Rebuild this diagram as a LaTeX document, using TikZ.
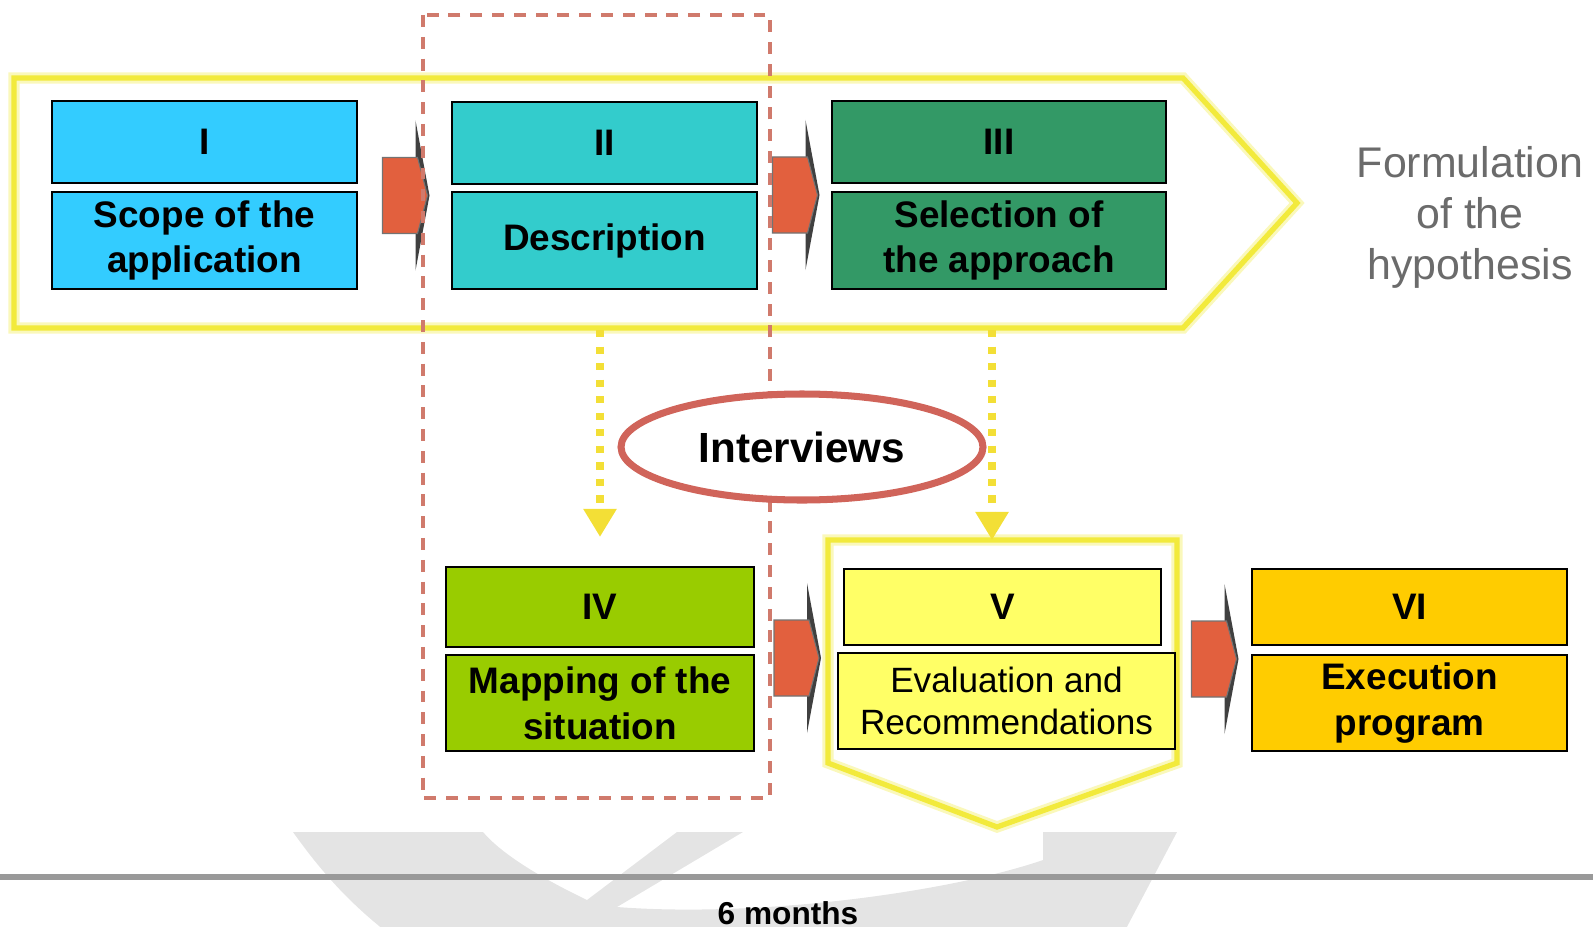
\documentclass[tikz,border=0pt]{standalone}
\usepackage{fontspec}
\setmainfont{Liberation Sans}
\usetikzlibrary{arrows.meta,shapes.geometric,calc}

\definecolor{scopeblue}{HTML}{33CCFF}
\definecolor{desccyan}{HTML}{33CCCC}
\definecolor{selgreen}{HTML}{339966}
\definecolor{mapgreen}{HTML}{99CC00}
\definecolor{evalyellow}{HTML}{FFFF66}
\definecolor{execgold}{HTML}{FFCC00}
\definecolor{flowred}{HTML}{E2603E}
\definecolor{hilite}{HTML}{F2EA3C}
\definecolor{dashred}{HTML}{D07A6C}
\definecolor{ringred}{HTML}{D0645A}
\definecolor{swoosh}{HTML}{E4E4E4}

\tikzset{
  stepbox/.style={draw=black, line width=0.6pt, inner sep=0pt, align=center,
    font=\fontsize{10.5}{13}\selectfont\bfseries},
  glow line/.style={draw=hilite!35, line width=3.2pt, line join=miter},
  hilite line/.style={draw=hilite, line width=1.5pt, line join=miter},
  dasharrow/.style={hilite!90!orange, line width=2.3pt, dash pattern=on 2.1pt off 2.6pt,
    -{Triangle[length=8pt,width=9pt]}},
  flowarrow/.pic={
    \fill[black!75] (11,-75) -- (25,0) -- (11,75) -- cycle;
    \filldraw[fill=flowred, draw=black!55, line width=0.3pt]
      (-22,-38) -- (13,-38) -- (23,0) -- (13,38) -- (-22,38) -- cycle;
  }
}

\begin{document}
\begin{tikzpicture}[x=0.1mm, y=-0.1mm]
    \useasboundingbox (0,0) rectangle (1593,926);

    % Background swoosh at the bottom
    \begin{scope}
        \clip (0,832) rectangle (1593,926);
        \fill[swoosh] (293,832) .. controls (320,870) and (350,905) .. (397,940)
            -- (1120,940) -- (1177,832) -- (1043,832) -- (1043,860)
            .. controls (950,892) and (760,918) .. (617,907)
            -- (743,832) -- (677,832) -- (587,900)
            .. controls (535,875) and (500,852) .. (483,832) -- cycle;
    \end{scope}
    \draw[black!40, line width=1.7pt] (0,877) -- (1593,877);

    % Large outline arrow around phases I-III
    \draw[glow line] (14,78) -- (1183,78) -- (1297,203) -- (1183,328) -- (14,328) -- cycle;
    \draw[hilite line] (14,78) -- (1183,78) -- (1297,203) -- (1183,328) -- (14,328) -- cycle;
    \coordinate (hyp-base) at (0,330);

    % Outline pentagon around phase V
    \draw[glow line, fill=white] (828,540) -- (1177,540) -- (1177,763) -- (997,827) -- (828,763) -- cycle;
    \draw[hilite line] (828,540) -- (1177,540) -- (1177,763) -- (997,827) -- (828,763) -- cycle;
    \coordinate (v-top) at (992,540);

    % Phases I-III
    \node[stepbox, fill=scopeblue, minimum width=30.5mm, minimum height=8.2mm] (n1) at (204.5,142) {I};
    \node[stepbox, fill=scopeblue, minimum width=30.5mm, minimum height=9.7mm] (s1) at (204.5,240.5) {Scope of the\\application};
    \node[stepbox, fill=desccyan, minimum width=30.5mm, minimum height=8.2mm] (n2) at (604.5,143) {II};
    \node[stepbox, fill=desccyan, minimum width=30.5mm, minimum height=9.7mm] (s2) at (604.5,240.5) {Description};
    \node[stepbox, fill=selgreen, minimum width=33.4mm, minimum height=8.2mm] (n3) at (999,142) {III};
    \node[stepbox, fill=selgreen, minimum width=33.4mm, minimum height=9.7mm] (s3) at (999,240.5) {Selection of\\the approach};

    % Phases IV-VI
    \node[stepbox, fill=mapgreen, minimum width=30.8mm, minimum height=8mm] (n4) at (600,607) {IV};
    \node[stepbox, fill=mapgreen, minimum width=30.8mm, minimum height=9.6mm] (s4) at (600,703) {Mapping of the\\situation};
    \node[stepbox, fill=evalyellow, minimum width=31.7mm, minimum height=7.6mm] (n5) at (1002.5,607) {V};
    \node[stepbox, fill=evalyellow, minimum width=33.7mm, minimum height=9.6mm,
          font=\fontsize{10}{11.8}\selectfont] (s5) at (1006.5,701) {Evaluation and\\Recommendations};
    \node[stepbox, fill=execgold, minimum width=31.5mm, minimum height=7.6mm] (n6) at (1409.5,607) {VI};
    \node[stepbox, fill=execgold, minimum width=31.5mm, minimum height=9.6mm] (s6) at (1409.5,703) {Execution\\program};

    % Flow arrows between phases
    \pic at ($(s1.south east)!0.5!(n2.north west)$) {flowarrow};
    \pic at ($(s2.south east)!0.5!(n3.north west)$) {flowarrow};
    \pic at ($(s5.south west)!0.5!(n4.north east)$) {flowarrow};
    \pic at ($(s5.south east)!0.5!(n6.north west)$) {flowarrow};

    % Six months window
    \draw[dashred, line width=0.9pt, dash pattern=on 3.4pt off 2.8pt] (423,15) rectangle (770,798);

    % Interviews feeding phases IV and V
    \draw[dasharrow] (n4.north |- hyp-base) -- ($(n4.north)+(0,-29)$);
    \draw[dasharrow] (v-top |- hyp-base) -- (v-top);
    \node[ellipse, draw=ringred, line width=2pt, fill=white, inner sep=0pt,
          minimum width=36.2mm, minimum height=10.6mm,
          font=\fontsize{12}{14}\selectfont\bfseries] (talks) at (802,447) {Interviews};

    % Labels
    \node[text=black!58, align=center, font=\fontsize{12.2}{14.5}\selectfont] (hypo) at (1470,217) {Formulation\\of the\\hypothesis};
    \node[anchor=base, font=\fontsize{9}{11}\selectfont\bfseries] (span) at (788,924) {6 months};
\end{tikzpicture}
\end{document}
